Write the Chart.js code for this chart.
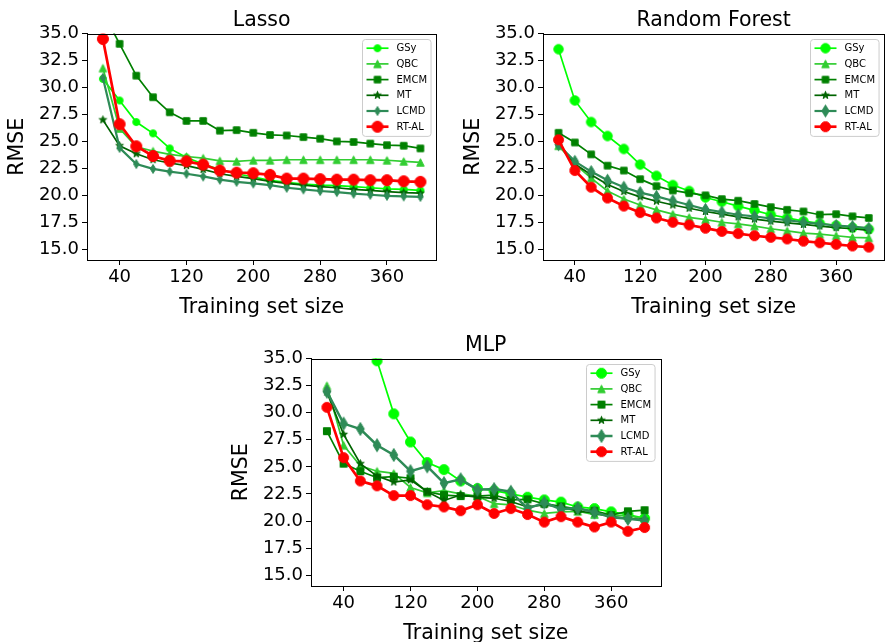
<!DOCTYPE html>
<html>
<head>
<meta charset="utf-8">
<script src="https://cdn.jsdelivr.net/npm/chart.js@4.4.1/dist/chart.umd.min.js"></script>
<style>
  html, body { margin: 0; padding: 0; background: #fff; overflow: hidden; }
  body { width: 891px; height: 642px; position: relative; }
  canvas { position: absolute; }
</style>
</head>
<body>
<canvas id="lasso" width="445" height="320" style="left:0;top:0"></canvas>
<canvas id="rf" width="437" height="320" style="left:456px;top:0"></canvas>
<canvas id="mlp" width="446" height="321" style="left:224px;top:325px"></canvas>
<script>
// training set sizes (x) and axis ticks
const sizes = [20, 40, 60, 80, 100, 120, 140, 160, 180, 200, 220, 240, 260, 280, 300, 320, 340, 360, 380, 400];
const xTicks = [40, 120, 200, 280, 360];
const yTicks = [15, 17.5, 20, 22.5, 25, 27.5, 30, 32.5, 35];
const methods = ["GSy", "QBC", "EMCM", "MT", "LCMD", "RT-AL"];

// Lasso
const lassoGSy = [30.8, 28.8, 26.8, 25.75, 24.35, 23.5, 22.9, 22.4, 22.0, 21.7, 21.4, 21.2, 21.05, 20.95, 20.9, 20.8, 20.7, 20.6, 20.55, 20.45];
const lassoQBC = [31.8, 26.2, 24.5, 24.1, 23.8, 23.6, 23.45, 23.2, 23.15, 23.25, 23.25, 23.3, 23.3, 23.3, 23.3, 23.3, 23.3, 23.25, 23.15, 23.05];
const lassoEMCM = [37.0, 34.05, 31.1, 29.1, 27.7, 26.9, 26.9, 26.0, 26.05, 25.8, 25.6, 25.55, 25.4, 25.25, 25.0, 24.95, 24.8, 24.65, 24.6, 24.35];
const lassoMT = [27.0, 24.6, 23.85, 23.3, 23.0, 22.75, 22.4, 22.0, 21.75, 21.55, 21.3, 21.1, 20.95, 20.8, 20.7, 20.55, 20.45, 20.35, 20.25, 20.2];
const lassoLCMD = [30.9, 24.4, 22.9, 22.45, 22.2, 22.0, 21.75, 21.45, 21.25, 21.1, 20.95, 20.7, 20.55, 20.4, 20.3, 20.15, 20.05, 19.95, 19.9, 19.85];
const lassoRTAL = [34.5, 26.6, 24.55, 23.65, 23.2, 23.15, 22.85, 22.3, 22.1, 22.05, 21.9, 21.55, 21.55, 21.5, 21.45, 21.45, 21.4, 21.4, 21.3, 21.25];

// Random Forest
const rfGSy = [33.55, 28.8, 26.8, 25.5, 24.3, 22.85, 21.8, 20.95, 20.4, 19.8, 19.4, 19.0, 18.6, 18.2, 17.9, 17.6, 17.4, 17.2, 17.0, 16.85];
const rfQBC = [24.6, 22.9, 21.6, 20.4, 19.65, 19.1, 18.65, 18.25, 17.95, 17.75, 17.5, 17.35, 17.15, 16.9, 16.7, 16.5, 16.4, 16.25, 16.1, 16.05];
const rfEMCM = [25.8, 24.9, 23.8, 22.75, 22.3, 21.5, 20.85, 20.45, 20.2, 20.0, 19.65, 19.5, 19.2, 18.9, 18.65, 18.5, 18.2, 18.25, 18.05, 17.9];
const rfMT = [24.8, 22.9, 21.9, 21.0, 20.35, 19.85, 19.45, 19.1, 18.8, 18.5, 18.25, 18.0, 17.8, 17.6, 17.45, 17.3, 17.15, 17.0, 16.9, 16.75];
const rfLCMD = [24.7, 23.15, 22.2, 21.4, 20.75, 20.25, 19.9, 19.5, 19.1, 18.7, 18.45, 18.2, 18.05, 17.85, 17.7, 17.5, 17.35, 17.2, 17.1, 16.95];
const rfRTAL = [25.15, 22.3, 20.75, 19.75, 19.0, 18.4, 17.9, 17.5, 17.25, 16.95, 16.65, 16.45, 16.25, 16.1, 15.95, 15.75, 15.6, 15.45, 15.3, 15.2];

// MLP
const mlpGSy = [48.0, 42.0, 37.4, 34.8, 29.9, 27.3, 25.4, 24.75, 23.7, 23.0, 22.8, 22.5, 22.2, 21.95, 21.75, 21.3, 21.15, 20.85, 20.6, 20.25];
const mlpQBC = [32.5, 27.0, 25.1, 24.6, 24.4, 23.1, 22.6, 22.8, 22.5, 22.3, 21.6, 21.5, 21.0, 20.7, 20.85, 20.9, 20.6, 20.55, 20.5, 20.2];
const mlpEMCM = [28.3, 25.3, 24.6, 24.0, 24.1, 23.95, 22.7, 22.4, 22.3, 22.3, 22.4, 21.95, 22.0, 21.6, 21.35, 21.1, 20.95, 20.55, 20.9, 21.0];
const mlpMT = [31.9, 28.0, 25.3, 24.15, 23.6, 23.8, 22.7, 21.9, 22.4, 22.2, 22.1, 21.8, 21.3, 21.5, 21.3, 20.9, 20.75, 20.4, 20.25, 20.1];
const mlpLCMD = [31.95, 29.0, 28.5, 27.0, 26.1, 24.6, 25.05, 23.5, 23.85, 22.9, 22.95, 22.7, 21.15, 21.7, 21.1, 21.2, 20.8, 20.35, 20.2, 20.05];
const mlpRTAL = [30.5, 25.85, 23.7, 23.25, 22.35, 22.35, 21.5, 21.3, 20.95, 21.5, 20.7, 21.15, 20.6, 19.9, 20.4, 19.9, 19.45, 19.9, 19.05, 19.4];

const colors = ["#00ff00", "#32cd32", "#008000", "#006400", "#2e8b57", "#ff0000"];
const shapes = ["o", "^", "s", "*", "d", "o"];
const FONT = "'DejaVu Sans', sans-serif";

Chart.defaults.font.family = FONT;
Chart.defaults.color = "#000";

// matplotlib-like markers drawn once on small canvases
const marker = (shape, color, d) => {
  const s = Math.ceil(d) + 4;
  const c = document.createElement("canvas");
  c.width = s;
  c.height = s;
  const g = c.getContext("2d");
  const h = s / 2, r = (d - 1) / 2;
  g.fillStyle = color;
  g.strokeStyle = color;
  g.lineWidth = 1;
  g.lineJoin = "miter";
  g.beginPath();
  if (shape === "o") {
    g.arc(h, h, r, 0, Math.PI * 2);
  } else if (shape === "s") {
    g.rect(h - r, h - r, 2 * r, 2 * r);
  } else if (shape === "^") {
    g.moveTo(h, h - r);
    g.lineTo(h + r, h + r);
    g.lineTo(h - r, h + r);
    g.closePath();
  } else if (shape === "*") {
    for (let k = 0; k < 10; k++) {
      const a = -Math.PI / 2 + (k * Math.PI) / 5;
      const rr = k % 2 === 0 ? r : r * 0.4;
      const px = h + rr * Math.cos(a), py = h + rr * Math.sin(a);
      k === 0 ? g.moveTo(px, py) : g.lineTo(px, py);
    }
    g.closePath();
  } else if (shape === "d") {
    g.moveTo(h, h - r);
    g.lineTo(h + r * 0.6, h);
    g.lineTo(h, h + r);
    g.lineTo(h - r * 0.6, h);
    g.closePath();
  }
  g.fill();
  g.stroke();
  return c;
};

// box around the axes (top and right spines)
const frame = {
  id: "frame",
  afterDatasetsDraw(chart) {
    const { ctx, chartArea: a } = chart;
    ctx.save();
    ctx.strokeStyle = "#000";
    ctx.lineWidth = 1;
    ctx.strokeRect(Math.round(a.left) + 0.5, Math.round(a.top) + 0.5, Math.round(a.right - a.left), Math.round(a.bottom - a.top));
    ctx.restore();
  },
};

// legend in the upper right corner of the axes, line + marker handles
const insideLegend = {
  id: "insideLegend",
  afterDraw(chart) {
    const { ctx, chartArea: a } = chart;
    const sets = chart.data.datasets;
    ctx.save();
    ctx.font = "10px " + FONT;
    const textW = Math.max(...sets.map((d) => ctx.measureText(d.label).width));
    const rowH = 15.7, handle = 22;
    const w = 4 + handle + 8 + textW + 4;
    const h = 8.7 + (sets.length - 1) * rowH + 9.7;
    const x0 = Math.round(a.right - 6 - w) + 0.5, y0 = Math.round(a.top + 5) + 0.5;
    ctx.beginPath();
    ctx.roundRect(x0, y0, w, h, 3);
    ctx.fillStyle = "rgba(255,255,255,0.8)";
    ctx.fill();
    ctx.strokeStyle = "#cccccc";
    ctx.lineWidth = 1;
    ctx.stroke();
    sets.forEach((d, i) => {
      const cy = y0 + 8.7 + i * rowH;
      const lx = x0 + 4;
      ctx.beginPath();
      ctx.moveTo(lx, cy);
      ctx.lineTo(lx + handle, cy);
      ctx.strokeStyle = d.borderColor;
      ctx.lineWidth = d.borderWidth;
      ctx.stroke();
      const m = d.pointStyle;
      ctx.drawImage(m, lx + handle / 2 - m.width / 2, cy - m.height / 2);
      ctx.fillStyle = "#000";
      ctx.textBaseline = "middle";
      ctx.textAlign = "left";
      ctx.fillText(d.label, lx + handle + 8, cy + 0.5);
    });
    ctx.restore();
  },
};

const makeChart = (id, title, series, markerSizes, lineWidths) => {
  const datasets = series.map((vals, i) => ({
    label: methods[i],
    data: sizes.map((x, j) => ({ x: x, y: vals[j] })),
    borderColor: colors[i],
    backgroundColor: colors[i],
    borderWidth: lineWidths[i],
    pointStyle: marker(shapes[i], colors[i], markerSizes[i]),
    pointRadius: markerSizes[i] / 2,
    tension: 0,
    clip: 0,
    order: series.length - 1 - i,
  }));

  new Chart(document.getElementById(id).getContext("2d"), {
    type: "line",
    data: { datasets: datasets },
    plugins: [frame, insideLegend],
    options: {
      responsive: false,
      animation: false,
      events: [],
      layout: { padding: { left: 0, right: 8, top: 0, bottom: 0 } },
      scales: {
        x: {
          type: "linear",
          min: 1,
          max: 419,
          afterBuildTicks: (s) => {
            s.ticks = xTicks.map((v) => ({ value: v }));
          },
          afterFit: (s) => {
            s.height = 60;
          },
          ticks: { font: { size: 18 }, color: "#000", padding: 2, maxRotation: 0, autoSkip: false },
          grid: { drawOnChartArea: false, tickLength: 5, color: "#000" },
          border: { color: "#000", width: 1 },
          title: { display: true, text: "Training set size", font: { size: 20.5 }, color: "#000", padding: { top: 0, bottom: 0 } },
        },
        y: {
          min: 14,
          max: 35,
          afterBuildTicks: (s) => {
            s.ticks = yTicks.map((v) => ({ value: v }));
          },
          afterFit: (s) => {
            s.width = 87;
          },
          ticks: { font: { size: 18 }, color: "#000", padding: 3, callback: (v) => v.toFixed(1) },
          grid: { drawOnChartArea: false, tickLength: 5, color: "#000" },
          border: { color: "#000", width: 1 },
          title: { display: true, text: "RMSE", font: { size: 20.5 }, color: "#000", padding: { top: 5, bottom: 0 } },
        },
      },
      plugins: {
        legend: { display: false },
        tooltip: { enabled: false },
        title: {
          display: true,
          text: title,
          fullSize: false,
          font: { size: 20.5, weight: "normal" },
          color: "#000",
          padding: { top: 8, bottom: 1 },
        },
      },
    },
  });
};

makeChart("lasso", "Lasso",
  [lassoGSy, lassoQBC, lassoEMCM, lassoMT, lassoLCMD, lassoRTAL],
  [8, 8.5, 7.5, 9, 10, 12],
  [1.7, 1.7, 1.7, 1.7, 2.2, 2.7]);

makeChart("rf", "Random Forest",
  [rfGSy, rfQBC, rfEMCM, rfMT, rfLCMD, rfRTAL],
  [10.5, 8.5, 7.5, 9, 13, 11],
  [1.7, 1.7, 1.7, 1.7, 2.2, 2.7]);

makeChart("mlp", "MLP",
  [mlpGSy, mlpQBC, mlpEMCM, mlpMT, mlpLCMD, mlpRTAL],
  [11, 8.5, 8, 9, 14, 11],
  [1.7, 1.7, 1.7, 1.7, 2.5, 2.7]);
</script>
</body>
</html>
